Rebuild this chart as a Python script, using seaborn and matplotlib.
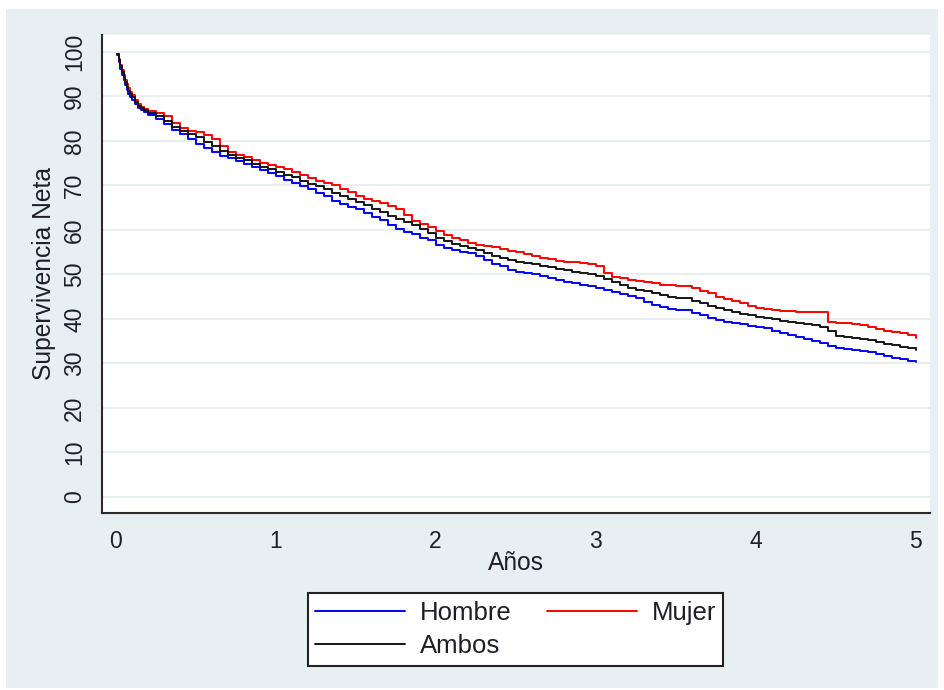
import matplotlib
matplotlib.use("Agg")
import matplotlib.pyplot as plt
from matplotlib.patches import Rectangle
import pandas as pd
import seaborn as sns

# Time since diagnosis (years)
anos = [0.01, 0.02, 0.03, 0.04, 0.05, 0.06, 0.07, 0.08, 0.09, 0.10,
        0.12, 0.14, 0.16, 0.18, 0.20,
        0.25, 0.30, 0.35, 0.40, 0.45, 0.50, 0.55, 0.60, 0.65, 0.70,
        0.75, 0.80, 0.85, 0.90, 0.95, 1.00, 1.05, 1.10, 1.15, 1.20,
        1.25, 1.30, 1.35, 1.40, 1.45, 1.50, 1.55, 1.60, 1.65, 1.70,
        1.75, 1.80, 1.85, 1.90, 1.95, 2.00, 2.05, 2.10, 2.15, 2.20,
        2.25, 2.30, 2.35, 2.40, 2.45, 2.50, 2.55, 2.60, 2.65, 2.70,
        2.75, 2.80, 2.85, 2.90, 2.95, 3.00, 3.05, 3.10, 3.15, 3.20,
        3.25, 3.30, 3.35, 3.40, 3.45, 3.50, 3.55, 3.60, 3.65, 3.70,
        3.75, 3.80, 3.85, 3.90, 3.95, 4.00, 4.05, 4.10, 4.15, 4.20,
        4.25, 4.30, 4.35, 4.40, 4.45, 4.50, 4.55, 4.60, 4.65, 4.70,
        4.75, 4.80, 4.85, 4.90, 4.95, 5.00]

# Net survival (%) by group
hombre = [99.3, 97.8, 96.2, 94.9, 93.6, 92.5, 91.5, 90.6, 89.8, 89.2,
          88.2, 87.5, 87.0, 86.5, 85.8,
          84.9, 83.9, 82.5, 81.6, 80.5, 79.3, 78.3, 77.4, 76.6, 76.2,
          75.6, 74.9, 74.2, 73.5, 72.8, 72.1, 71.3, 70.5, 69.8, 69.1,
          68.4, 67.7, 66.6, 65.8, 65.2, 64.6, 63.8, 63.0, 62.2, 61.2,
          60.2, 59.6, 59.0, 58.3, 57.7, 56.6, 55.9, 55.4, 55.0, 54.8,
          54.2, 53.3, 52.4, 51.8, 51.0, 50.5, 50.3, 50.2, 49.7, 49.2,
          48.8, 48.4, 48.0, 47.6, 47.3, 47.0, 46.5, 46.0, 45.6, 45.1,
          44.6, 43.8, 43.1, 42.6, 42.2, 42.0, 41.9, 41.3, 40.8, 40.3,
          39.8, 39.4, 39.1, 38.8, 38.5, 38.2, 37.9, 37.4, 36.9, 36.5,
          36.0, 35.5, 35.0, 34.5, 33.9, 33.4, 33.2, 33.1, 32.9, 32.6,
          32.2, 31.7, 31.3, 31.0, 30.6, 30.3]

mujer = [99.5, 98.4, 97.1, 95.9, 94.8, 93.7, 92.7, 91.8, 91.0, 90.3,
         89.1, 88.2, 87.6, 87.2, 86.8,
         86.3, 85.6, 84.0, 83.0, 82.3, 82.0, 81.3, 80.4, 78.8, 77.5,
         76.9, 76.4, 75.8, 75.1, 74.6, 74.2, 73.6, 73.1, 72.4, 71.7,
         71.0, 70.5, 70.1, 69.3, 68.6, 67.7, 67.0, 66.6, 66.0, 65.3,
         64.6, 63.3, 62.0, 61.3, 60.6, 59.7, 58.9, 58.3, 57.7, 57.1,
         56.7, 56.4, 56.2, 55.7, 55.3, 55.0, 54.6, 54.1, 53.8, 53.4,
         53.1, 52.9, 52.8, 52.5, 52.3, 51.9, 50.3, 49.5, 49.1, 48.8,
         48.5, 48.2, 48.0, 47.7, 47.6, 47.5, 47.4, 47.0, 46.3, 45.8,
         45.0, 44.5, 44.0, 43.5, 43.0, 42.5, 42.2, 42.0, 41.8, 41.7,
         41.6, 41.6, 41.6, 41.5, 39.4, 39.2, 39.0, 38.8, 38.6, 38.3,
         37.8, 37.3, 37.1, 36.9, 36.4, 35.7]

ambos = [99.5, 98.2, 96.8, 95.5, 94.3, 93.2, 92.2, 91.3, 90.5, 89.8,
         88.7, 87.9, 87.3, 86.9, 86.3,
         85.5, 84.4, 83.2, 82.3, 81.5, 80.8, 79.8, 78.9, 77.7, 76.8,
         76.2, 75.7, 74.9, 74.2, 73.6, 73.0, 72.4, 71.8, 71.1, 70.4,
         69.8, 69.2, 68.3, 67.6, 67.0, 66.3, 65.6, 64.8, 64.0, 63.2,
         62.4, 61.7, 61.0, 60.1, 59.2, 58.2, 57.6, 56.9, 56.3, 55.9,
         55.4, 54.8, 54.2, 53.7, 53.2, 52.9, 52.6, 52.4, 52.0, 51.7,
         51.3, 51.0, 50.6, 50.4, 50.2, 49.6, 48.9, 48.2, 47.6, 47.0,
         46.6, 46.2, 45.9, 45.4, 45.0, 44.8, 44.6, 44.0, 43.5, 42.9,
         42.4, 42.0, 41.6, 41.2, 40.9, 40.5, 40.2, 39.9, 39.6, 39.3,
         39.0, 38.8, 38.6, 38.1, 37.2, 36.2, 35.9, 35.8, 35.6, 35.2,
         34.8, 34.4, 34.1, 33.8, 33.5, 33.1]

grupos = ["Hombre", "Mujer", "Ambos"]
colores = {"Hombre": "#0000ff", "Mujer": "#ff0000", "Ambos": "#151515"}
x_ticks = [0, 1, 2, 3, 4, 5]
y_ticks = list(range(0, 101, 10))

df = pd.concat([
    pd.DataFrame({"Años": anos, "Supervivencia": vals, "Grupo": g})
    for g, vals in zip(grupos, [hombre, mujer, ambos])
], ignore_index=True)

sns.set_style("white")
plt.rcParams["font.family"] = ["Liberation Sans", "DejaVu Sans"]

W, H = 944, 690
fig = plt.figure(figsize=(W / 100, H / 100), dpi=100, facecolor="white")
# light grey-blue graph region behind the plot
fig.patches.append(Rectangle((6 / W, 1 - 688 / H), 932 / W, 679 / H,
                             transform=fig.transFigure, facecolor="#e8eff2",
                             edgecolor="none", zorder=-10))

ax = fig.add_axes([101.5 / W, 1 - 513 / H, (930 - 101.5) / W, (513 - 35) / H])
ax.set_zorder(1)
ax.set_facecolor("white")

sns.lineplot(data=df, x="Años", y="Supervivencia", hue="Grupo",
             hue_order=grupos, palette=colores, estimator=None,
             drawstyle="steps-post", linewidth=1.4, legend=False, ax=ax)

ax.set_xlim(-0.0875, 5.09)
ax.set_ylim(-3.6, 103.8)
ax.set_xticks(x_ticks)
ax.set_yticks(y_ticks)
ax.yaxis.grid(True, color="#e6edf1", linewidth=1.3)
ax.xaxis.grid(False)
ax.set_axisbelow(True)

for side in ["top", "right"]:
    ax.spines[side].set_visible(False)
for side in ["left", "bottom"]:
    ax.spines[side].set_color("#2a2a2a")
    ax.spines[side].set_linewidth(1.5)

txt = "#1e1e28"
ax.tick_params(axis="both", direction="out", length=7, width=1.3,
               color="#2a2a2a", labelsize=16.5, labelcolor=txt)
ax.tick_params(axis="y", pad=4, labelrotation=90)
ax.tick_params(axis="x", pad=5)
plt.setp(ax.get_yticklabels(), va="center")

ax.set_xlabel("Años", fontsize=17.7, color=txt, labelpad=-1)
ax.set_ylabel("Supervivencia Neta", fontsize=17.7, color=txt, labelpad=5)

lines = ax.get_lines()
handles = [lines[0], lines[2], lines[1]]
labels = ["Hombre", "Ambos", "Mujer"]
leg = fig.legend(handles, labels, ncol=2, loc="center",
                 bbox_to_anchor=(515.5 / W, 1 - 629.5 / H),
                 fontsize=18.5, frameon=True, fancybox=False, framealpha=1,
                 facecolor="white",
                 handlelength=3.5, handletextpad=0.58, columnspacing=1.36,
                 labelspacing=0.38, borderpad=0.28)
leg.set_zorder(2)
leg.get_frame().set_edgecolor("#222222")
leg.get_frame().set_linewidth(1.5)
for t in leg.get_texts():
    t.set_color(txt)

fig.savefig("out.png", dpi=100, facecolor=fig.get_facecolor())
